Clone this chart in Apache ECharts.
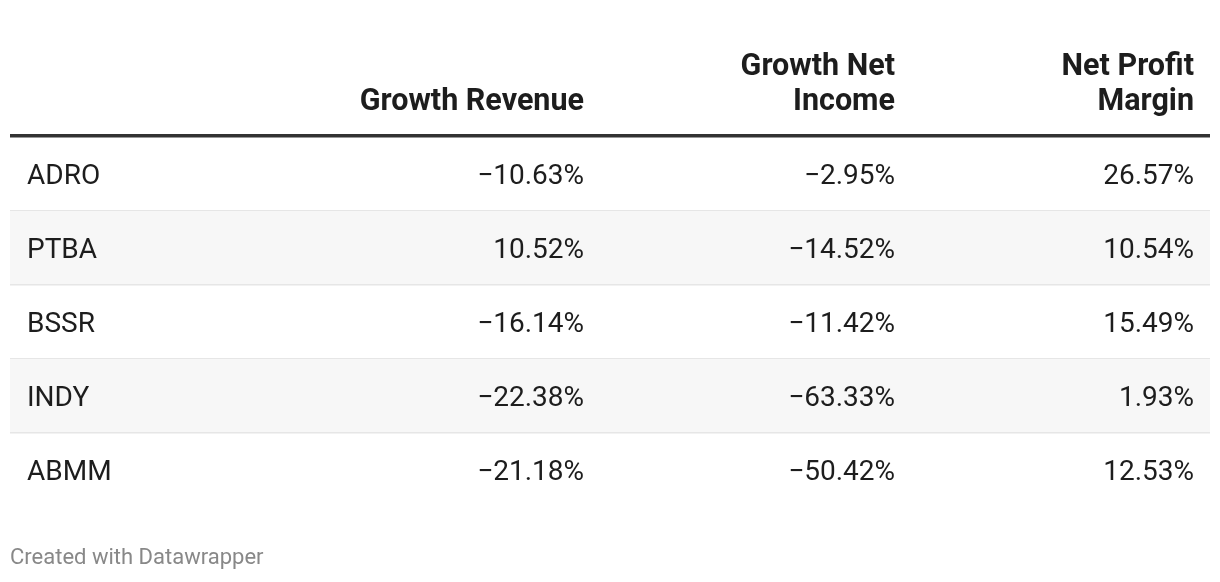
<!DOCTYPE html>
<html>
<head>
<meta charset="utf-8">
<script src="https://cdn.jsdelivr.net/npm/echarts@6/dist/echarts.min.js"></script>
<style>
  html, body { margin: 0; padding: 0; background: #fff; }
  #chart { width: 1220px; height: 582px; }
</style>
</head>
<body>
<div id="chart"></div>
<script>
// ---- data ----
const tickers = ['ADRO', 'PTBA', 'BSSR', 'INDY', 'ABMM'];
const growthRevenue = [-10.63, 10.52, -16.14, -22.38, -21.18];
const growthNetIncome = [-2.95, -14.52, -11.42, -63.33, -50.42];
const netProfitMargin = [26.57, 10.54, 15.49, 1.93, 12.53];
const columnHeaders = ['Growth Revenue', 'Growth Net\nIncome', 'Net Profit\nMargin'];
const footerText = 'Created with Datawrapper';

// ---- layout (styling only) ----
const FONT = 'Roboto, "Noto Sans", sans-serif';
const labelAnchor = 17;                 // x in table units (left aligned)
const colAnchors = [574, 885, 1184];    // right edges in table units
const valueCols = [growthRevenue, growthNetIncome, netProfitMargin];

function fmt(v) {
  const s = Math.abs(v).toFixed(2) + '%';
  return v < 0 ? '\u2212' + s : s;
}

const chart = echarts.init(document.getElementById('chart'), null, { renderer: 'canvas' });

const rows = tickers.map((t, i) => [0, i]);

const option = {
  animation: false,
  backgroundColor: '#ffffff',
  grid: { left: 10, right: 10, top: 137, height: 370, containLabel: false },
  xAxis: { type: 'value', min: 0, max: 1200, show: false },
  yAxis: { type: 'category', data: tickers, inverse: true, show: false },
  series: [{
    type: 'custom',
    coordinateSystem: 'cartesian2d',
    data: rows,
    clip: false,
    renderItem: function (params, api) {
      const r = api.value(1);
      const center = api.coord([0, r]);
      const bandH = api.size([0, 1])[1];
      const left = params.coordSys.x;
      const width = params.coordSys.width;
      const top = center[1] - bandH / 2;
      const children = [];
      if (r % 2 === 1) {
        children.push({
          type: 'rect',
          shape: { x: left, y: top, width: width, height: bandH },
          style: { fill: '#f7f7f7' }
        });
      }
      if (r < tickers.length - 1) {
        children.push({
          type: 'rect',
          shape: { x: left, y: top + bandH - 1, width: width, height: 1.5 },
          style: { fill: '#e6e6e6' }
        });
      }
      const lp = api.coord([labelAnchor, r]);
      children.push({
        type: 'text',
        x: lp[0], y: lp[1] + 3,
        style: {
          text: tickers[r], fill: '#1d1d1d', font: '400 28px ' + FONT,
          textAlign: 'left', textVerticalAlign: 'middle'
        }
      });
      valueCols.forEach(function (col, c) {
        const p = api.coord([colAnchors[c], r]);
        children.push({
          type: 'text',
          x: p[0], y: p[1] + 3,
          style: {
            text: fmt(col[r]), fill: '#1d1d1d', font: '400 28px ' + FONT,
            textAlign: 'right', textVerticalAlign: 'middle'
          }
        });
      });
      return { type: 'group', children: children };
    }
  }],
  graphic: [
    {
      type: 'rect', left: 10, top: 134, shape: { width: 1200, height: 3.5 },
      style: { fill: '#333333' }
    },
    ...columnHeaders.map(function (h, c) {
      return {
        type: 'text',
        x: colAnchors[c] + 10, y: 120,
        style: {
          text: h, fill: '#1d1d1d', font: '700 30.5px ' + FONT,
          textAlign: 'right', textVerticalAlign: 'bottom', lineHeight: 35
        }
      };
    }),
    {
      type: 'text', x: 10, y: 558,
      style: {
        text: footerText, fill: '#888888', font: '400 22px ' + FONT,
        textAlign: 'left', textVerticalAlign: 'middle'
      }
    }
  ]
};
chart.setOption(option);
</script>
</body>
</html>
